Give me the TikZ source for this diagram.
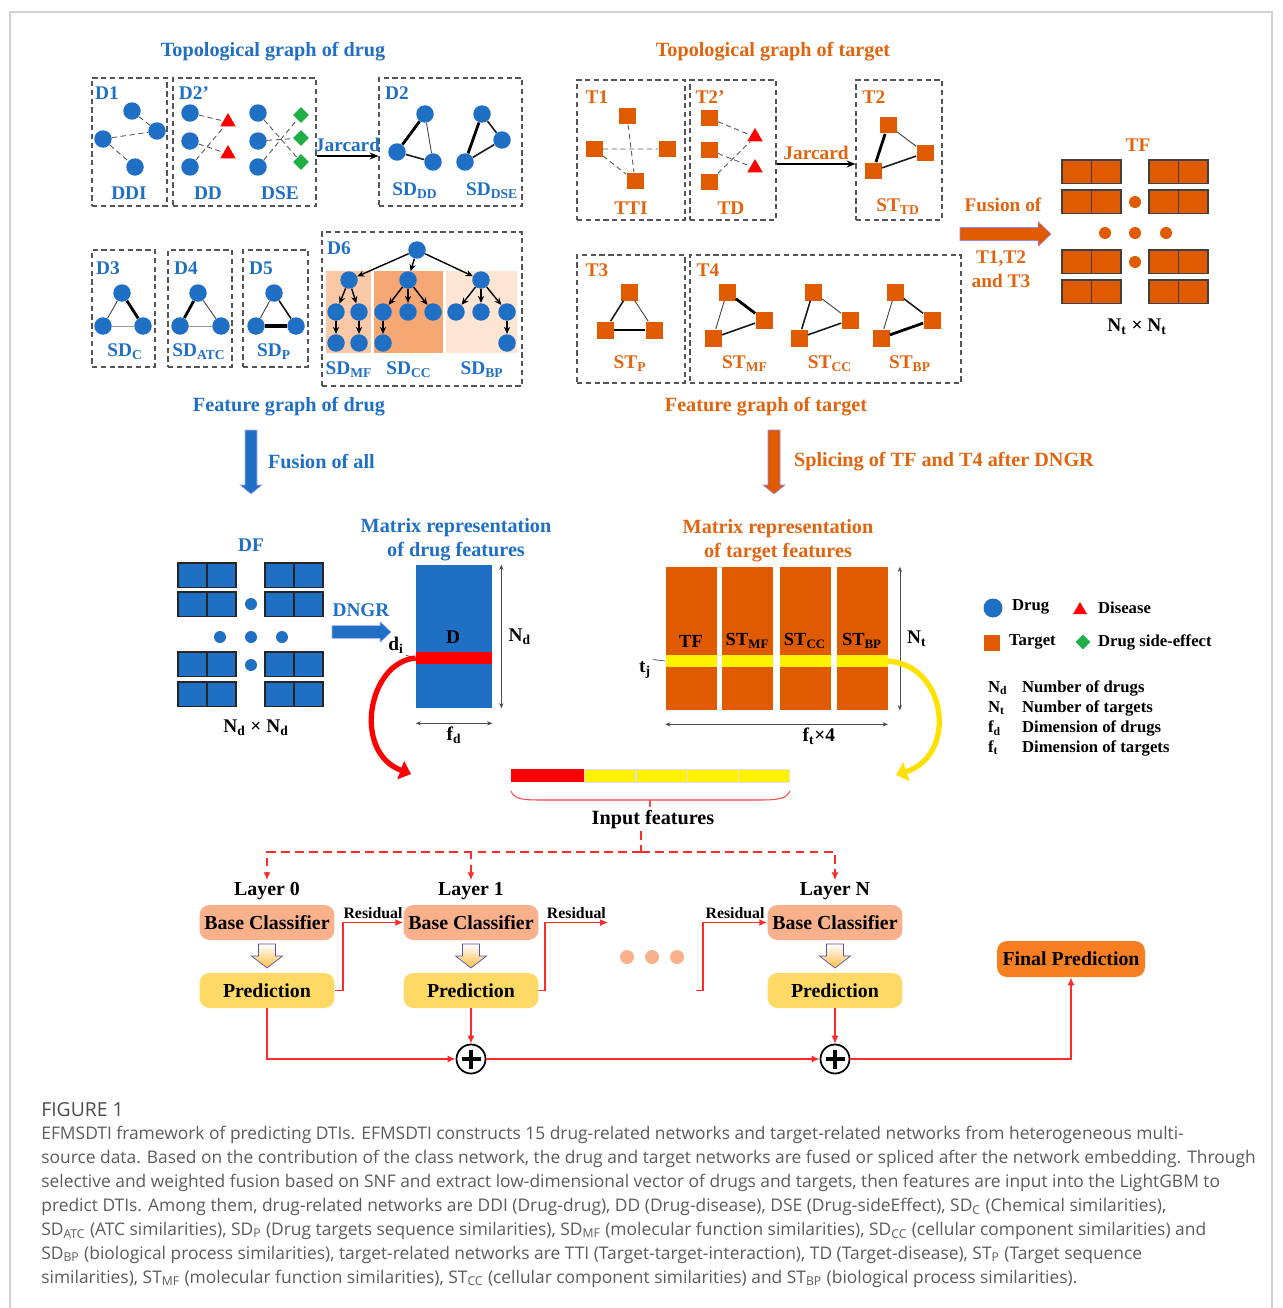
\documentclass[tikz,border=0pt]{standalone}
\usepackage{fontspec}
\setmainfont{Liberation Serif}
\newfontfamily\capfont{Open Sans}
\usetikzlibrary{arrows.meta,positioning,fit,calc,shapes.geometric}

\definecolor{drugblue}{HTML}{1F6FC5}
\definecolor{tgtorange}{HTML}{E05A00}
\definecolor{tgttext}{HTML}{E3640E}
\definecolor{mfshade}{HTML}{FAC9A8}
\definecolor{ccshade}{HTML}{F6A874}
\definecolor{bpshade}{HTML}{FDE5D3}
\definecolor{basefill}{HTML}{F9B18C}
\definecolor{predfill}{HTML}{FFD966}
\definecolor{finalfill}{HTML}{F77F22}
\definecolor{resred}{HTML}{FF2B2B}
\definecolor{boxgray}{HTML}{555555}
\definecolor{capgray}{HTML}{5C5C5C}
\definecolor{effgreen}{HTML}{1FAF45}
\definecolor{bandyellow}{HTML}{FFF200}

\begin{document}
\begin{tikzpicture}[
  x=0.02cm, y=-0.02cm,
  lbl/.style={font=\fontsize{11}{13}\selectfont\bfseries, inner sep=1pt},
  ttl/.style={font=\fontsize{11.5}{13.6}\selectfont\bfseries, align=center},
  legtext/.style={font=\fontsize{9.5}{11}\selectfont\bfseries, inner sep=1pt},
  resid/.style={font=\fontsize{9}{10}\selectfont\bfseries, inner sep=1.5pt, text=black},
  grp/.style={draw=boxgray, densely dashed, line width=0.6pt, inner sep=0pt},
  drug/.style={circle, fill=drugblue, minimum size=0.35cm, inner sep=0pt},
  target/.style={rectangle, fill=tgtorange, minimum size=0.34cm, inner sep=0pt},
  disease/.style={regular polygon, regular polygon sides=3, fill=red, minimum size=0.36cm, inner sep=0pt},
  effect/.style={diamond, fill=effgreen, minimum size=0.32cm, inner sep=0pt},
  dlink/.style={densely dashed, draw=black!65, line width=0.5pt},
  lightlink/.style={draw=black!75, line width=0.5pt},
  midlink/.style={draw=black!90, line width=0.9pt},
  heavylink/.style={draw=black, line width=1.6pt},
  treearrow/.style={-{Stealth[length=4pt,width=3.6pt]}, line width=0.8pt},
  jarc/.style={-{Stealth[length=5pt,width=4pt]}, line width=0.6pt},
  dimline/.style={{Stealth[length=3pt,width=2.4pt]}-{Stealth[length=3pt,width=2.4pt]}, line width=0.4pt, draw=black!70},
  dfcell/.style={fill=drugblue, draw=black!85, line width=0.8pt},
  tfcell/.style={fill=tgtorange, draw=black!75, line width=0.8pt},
  bluearrow/.style={fill=drugblue, draw=blue!30, line width=0.3pt},
  orangearrow/.style={fill=tgtorange, draw=blue!45, line width=0.3pt},
  clf/.style={rounded corners=0.2cm, fill=basefill, minimum width=2.7cm, minimum height=0.7cm, inner sep=0pt, font=\fontsize{11.3}{13}\selectfont\bfseries},
  predbox/.style={clf, fill=predfill},
  hollow/.style={top color=white, bottom color=predfill!70!orange, draw=blue!35!gray, line width=0.4pt},
  sumnode/.style={circle, draw=black, line width=1pt, minimum size=0.58cm, inner sep=0pt, fill=white},
  flow/.style={draw=resred, line width=0.8pt, -{Latex[length=4.5pt,width=4pt]}},
  dflow/.style={draw=resred, dash pattern=on 5pt off 3pt, line width=0.8pt}
]
\useasboundingbox (0,0) rectangle (1282,1308);
\fill[white] (0,0) rectangle (1282,1308);
\draw[black!18, line width=0.6pt] (10,1308) -- (10,12) -- (1272,12) -- (1272,1308);

% ---- drug: topological graphs
\node[ttl, text=drugblue] (ttldrug) at (273,52) {Topological graph of drug};
\node[grp, fit={(92,78) (167,206)}] (boxd1) {};
\node[grp, fit={(173,78) (316,206)}] (boxd2p) {};
\node[grp, fit={(379,78) (522,206)}] (boxd2) {};

\foreach \n/\x/\y in {a/132/111, b/157/131, c/103/139, d/135/167}
  \node[drug] (d1\n) at (\x,\y) {};
\draw[dlink] (d1a) -- (d1b) (d1c) -- (d1b) (d1c) -- (d1d);
\node[lbl, text=drugblue] (labd1) at (107,93) {D1};
\node[lbl, text=drugblue] (labddi) at (129,193) {DDI};

\foreach \n/\y in {a/113, b/141, c/167} {
  \node[drug] (dd\n) at (190,\y) {};
  \node[drug] (ds\n) at (258,\y) {};
}
\node[disease] (dis1) at (228,122) {};
\node[disease] (dis2) at (228,154) {};
\foreach \n/\y in {a/115, b/138, c/162}
  \node[effect] (eff\n) at (301,\y) {};
\draw[dlink] (dda) -- (dis1) (ddb) -- (dis2) (ddc) -- (dis1);
\draw[dlink] (dsa) -- (effc) (dsb) -- (effb) (dsc) -- (effa);
\node[lbl, text=drugblue] (labd2p) at (194,93) {D2'};
\node[lbl, text=drugblue] (labdd) at (208,193) {DD};
\node[lbl, text=drugblue] (labdse) at (280,193) {DSE};

\node[drug] (sda) at (425,114) {};
\node[drug] (sdb) at (397,152) {};
\node[drug] (sdc) at (433,162) {};
\node[drug] (sea) at (482,114) {};
\node[drug] (seb) at (502,140) {};
\node[drug] (sec) at (465,162) {};
\draw[heavylink] (sda) -- (sdb);
\draw[lightlink] (sda) -- (sdc);
\draw[midlink] (sdb) -- (sdc);
\draw[heavylink] (sea) -- (sec);
\draw[midlink] (sea) -- (seb);
\draw[midlink] (seb) -- (sec);
\node[lbl, text=drugblue] (labd2) at (397,93) {D2};
\node[lbl, text=drugblue] (labsddd) at (415,191) {SD\textsubscript{DD}};
\node[lbl, text=drugblue] (labsddse) at (492,191) {SD\textsubscript{DSE}};

\draw[jarc] ([yshift=-0.28cm]boxd2p.east) -- ([yshift=-0.28cm]boxd2.west)
  node[midway, above, lbl, text=drugblue, inner sep=2pt] (jard) {Jarcard};

% ---- drug: feature graphs
\node[grp, fit={(92,250) (155,367)}] (boxd3) {};
\node[grp, fit={(168,250) (232,367)}] (boxd4) {};
\node[grp, fit={(243,250) (308,367)}] (boxd5) {};
\node[grp, fit={(322,232) (522,386)}] (boxd6) {};

\node[drug] (d3t) at (122,293) {};
\node[drug] (d3l) at (103,326) {};
\node[drug] (d3r) at (143,326) {};
\draw[heavylink] (d3t) -- (d3r);
\draw[lightlink] (d3t) -- (d3l);
\draw[lightlink, draw=black!40] (d3l) -- (d3r);
\node[lbl, text=drugblue] (labd3) at (108,268) {D3};
\node[lbl, text=drugblue] (labsdc) at (125,352) {SD\textsubscript{C}};

\node[drug] (d4t) at (198,293) {};
\node[drug] (d4l) at (180,326) {};
\node[drug] (d4r) at (221,326) {};
\draw[heavylink] (d4t) -- (d4l);
\draw[lightlink] (d4t) -- (d4r);
\draw[lightlink, draw=black!40] (d4l) -- (d4r);
\node[lbl, text=drugblue] (labd4) at (186,268) {D4};
\node[lbl, text=drugblue] (labsdatc) at (199,352) {SD\textsubscript{ATC}};

\node[drug] (d5t) at (274,293) {};
\node[drug] (d5l) at (256,326) {};
\node[drug] (d5r) at (296,326) {};
\draw[lightlink] (d5t) -- (d5l);
\draw[midlink] (d5t) -- (d5r);
\draw[heavylink, line width=2.2pt] (d5l) -- (d5r);
\node[lbl, text=drugblue] (labd5) at (261,268) {D5};
\node[lbl, text=drugblue] (labsdp) at (274,352) {SD\textsubscript{P}};

\fill[mfshade] (326,271) rectangle (371,353);
\fill[ccshade] (374,271) rectangle (443,353);
\fill[bpshade] (446,271) rectangle (517,353);
\foreach \n/\x/\y in {root/417/250, mf/349/280, cc/408/280, bp/481/280,
    mfa/336/312, mfb/359/312, cca/383/312, ccb/408/312, ccc/433/312,
    bpa/456/312, bpb/481/312, bpc/507/312,
    mfaa/336/343, mfbb/359/343, ccaa/383/343, bpcc/507/343}
  \node[drug] (d6\n) at (\x,\y) {};
\foreach \a/\b in {root/mf, root/cc, root/bp, mf/mfa, mf/mfb, mfa/mfaa, mfb/mfbb,
    cc/cca, cc/ccb, cc/ccc, cca/ccaa, bp/bpa, bp/bpb, bp/bpc, bpc/bpcc}
  \draw[treearrow] (d6\a) -- (d6\b);
\node[lbl, text=drugblue] (labd6) at (339,248) {D6};
\node[lbl, text=drugblue] (labsdmf) at (349,370) {SD\textsubscript{MF}};
\node[lbl, text=drugblue] (labsdcc) at (409,370) {SD\textsubscript{CC}};
\node[lbl, text=drugblue] (labsdbp) at (482,370) {SD\textsubscript{BP}};
\node[ttl, text=drugblue] (ftdrug) at (289,407) {Feature graph of drug};

% ---- target: topological graphs
\node[ttl, text=tgttext] (ttltgt) at (773,52) {Topological graph of target};
\node[grp, fit={(577,80) (685,220)}] (boxt1) {};
\node[grp, fit={(690,80) (776,220)}] (boxt2p) {};
\node[grp, fit={(856,80) (942,220)}] (boxt2) {};

\foreach \n/\x/\y in {a/627/116, b/594/149, c/667/149, d/635/181}
  \node[target] (t1\n) at (\x,\y) {};
\draw[dlink] (t1a) -- (t1d) (t1b) -- (t1c) (t1b) -- (t1d);
\node[lbl, text=tgttext] (labt1) at (597,97) {T1};
\node[lbl, text=tgttext] (labtti) at (631,208) {TTI};

\foreach \n/\y in {a/118, b/150, c/182}
  \node[target] (td\n) at (709,\y) {};
\node[disease] (tdis1) at (755,137) {};
\node[disease] (tdis2) at (755,168) {};
\draw[dlink] (tda) -- (tdis1) (tdb) -- (tdis2) (tdc) -- (tdis1);
\node[lbl, text=tgttext] (labt2p) at (710,97) {T2'};
\node[lbl, text=tgttext] (labtd) at (731,208) {TD};

\node[target] (sta) at (888,125) {};
\node[target] (stb) at (925,153) {};
\node[target] (stc) at (873,171) {};
\draw[heavylink] (sta) -- (stc);
\draw[lightlink] (sta) -- (stb);
\draw[midlink] (stc) -- (stb);
\node[lbl, text=tgttext] (labt2) at (874,97) {T2};
\node[lbl, text=tgttext] (labsttd) at (898,207) {ST\textsubscript{TD}};

\draw[jarc] ([yshift=-0.28cm]boxt2p.east) -- ([yshift=-0.28cm]boxt2.west)
  node[midway, above, lbl, text=tgttext, inner sep=2pt] (jart) {Jarcard};

% ---- target: feature graphs
\node[grp, fit={(577,255) (685,383)}] (boxt3) {};
\node[grp, fit={(690,255) (961,383)}] (boxt4) {};

\node[target] (t3a) at (629,292) {};
\node[target] (t3b) at (605,330) {};
\node[target] (t3c) at (654,330) {};
\draw[midlink] (t3a) -- (t3b);
\draw[lightlink] (t3a) -- (t3c);
\draw[heavylink] (t3b) -- (t3c);
\node[lbl, text=tgttext] (labt3) at (597,270) {T3};
\node[lbl, text=tgttext] (labstp) at (630,364) {ST\textsubscript{P}};

\foreach \g/\x in {mf/727, cc/813, bp/895} {
  \node[target] (\g a) at (\x,292) {};
  \node[target] (\g b) at (\x+37,320) {};
  \node[target] (\g c) at (\x-14,338) {};
}
\draw[heavylink] (mfa) -- (mfb);
\draw[lightlink] (mfa) -- (mfc);
\draw[midlink] (mfc) -- (mfb);
\draw[lightlink] (cca) -- (ccb);
\draw[midlink] (cca) -- (ccc);
\draw[midlink] (ccc) -- (ccb);
\draw[midlink] (bpa) -- (bpb);
\draw[lightlink] (bpa) -- (bpc);
\draw[heavylink] (bpc) -- (bpb);
\node[lbl, text=tgttext] (labt4) at (708,270) {T4};
\node[lbl, text=tgttext] (labstmf) at (745,364) {ST\textsubscript{MF}};
\node[lbl, text=tgttext] (labstcc) at (830,364) {ST\textsubscript{CC}};
\node[lbl, text=tgttext] (labstbp) at (910,364) {ST\textsubscript{BP}};
\node[ttl, text=tgttext] (fttgt) at (766,407) {Feature graph of target};

% ---- TF
\node[lbl, text=tgttext] (labfus) at (1003,205) {Fusion of};
\filldraw[orangearrow] (960,227.5) -- (1038,227.5) -- (1038,221.5) -- (1051,234) -- (1038,246.5) -- (1038,240.5) -- (960,240.5) -- cycle;
\node[lbl, text=tgttext, align=center, font=\fontsize{11}{13.6}\selectfont\bfseries] (labfus2) at (1001,269) {T1,T2\\and T3};
\node[lbl, text=tgttext] (labtf) at (1138,145) {TF};
\foreach \x in {1062,1149}
  \foreach \y in {160,190,250,280} {
    \draw[tfcell] (\x,\y) rectangle ++(29.5,23.5);
    \draw[tfcell] (\x+29.5,\y) rectangle ++(29.5,23.5);
  }
\foreach \n/\x/\y in {a/1135/202, b/1105/233, c/1135/233, d/1166/233, e/1135/262}
  \node[circle, fill=tgtorange, minimum size=0.24cm, inner sep=0pt] (tfdot\n) at (\x,\y) {};
\node[lbl] (labntnt) at (1137,327) {N\textsubscript{t} × N\textsubscript{t}};

% ---- fusion arrows
\filldraw[bluearrow] (245,430) -- (257,430) -- (257,485) -- (262,485) -- (251,494) -- (240,485) -- (245,485) -- cycle;
\node[lbl, text=drugblue, anchor=west, font=\fontsize{11.5}{13}\selectfont\bfseries] (labfuseall) at (266,462) {Fusion of all};
\filldraw[orangearrow] (768,430) -- (780,430) -- (780,485) -- (785,485) -- (774,494) -- (763,485) -- (768,485) -- cycle;
\node[lbl, text=tgttext, anchor=west, font=\fontsize{11.5}{13}\selectfont\bfseries] (labsplice) at (792,462) {Splicing of TF and T4 after DNGR};

% ---- DF
\node[lbl, text=drugblue] (labdf) at (251,545) {DF};
\foreach \x in {178,265}
  \foreach \y in {563,592,652,682} {
    \draw[dfcell] (\x,\y) rectangle ++(29,24.5);
    \draw[dfcell] (\x+29,\y) rectangle ++(29,24.5);
  }
\foreach \n/\x/\y in {a/251/604, b/220/637, c/251/637, d/282/637, e/251/665}
  \node[circle, fill=drugblue, minimum size=0.24cm, inner sep=0pt] (dfdot\n) at (\x,\y) {};
\node[lbl] (labndnd) at (256,728) {N\textsubscript{d} × N\textsubscript{d}};
\filldraw[bluearrow] (332,625.5) -- (380,625.5) -- (380,621.5) -- (391,632) -- (380,642.5) -- (380,638.5) -- (332,638.5) -- cycle;
\node[lbl, text=drugblue] (labdngr) at (361,610) {DNGR};

% ---- drug matrix
\node[ttl, text=drugblue] (ttldmat) at (456,539.5) {Matrix representation\\of drug features};
\node[fill=drugblue, minimum width=1.52cm, minimum height=2.86cm, inner sep=0pt] (dmat) at (454,636.5) {};
\node[fill=red, minimum width=1.52cm, minimum height=0.24cm, inner sep=0pt] (dband) at (454,658) {};
\node[lbl] (labdm) at (453,637) {D};
\node[lbl] (labdi) at (396,645) {d\textsubscript{i}};
\draw[black!70, line width=0.4pt] (labdi.south east) -- (dband.west);
\draw[dimline] ([xshift=0.18cm]dmat.north east) -- ([xshift=0.18cm]dmat.south east)
  node[midway, right, lbl, inner sep=4pt] (labnd) {N\textsubscript{d}};
\draw[dimline] ([yshift=-0.3cm]dmat.south west) -- ([yshift=-0.3cm]dmat.south east)
  node[midway, below, lbl, inner sep=2pt] (labfd) {f\textsubscript{d}};

% ---- target matrix
\node[ttl, text=tgttext] (ttltmat) at (778,541) {Matrix representation\\of target features};
\foreach \i/\x/\t in {1/691/TF, 2/747.5/ST\textsubscript{MF}, 3/805/ST\textsubscript{CC}, 4/862/ST\textsubscript{BP}} {
  \node[fill=tgtorange, minimum width=1.02cm, minimum height=2.86cm, inner sep=0pt] (tcol\i) at (\x,638.5) {};
  \node[fill=bandyellow, minimum width=1.02cm, minimum height=0.24cm, inner sep=0pt] (tband\i) at (\x,661) {};
  \node[lbl, font=\fontsize{10.5}{12}\selectfont\bfseries] (labtcol\i) at (\x,641) {\t};
}
\node[lbl] (labtj) at (645,670) {t\textsubscript{j}};
\draw[black!70, line width=0.4pt] (labtj.north east) -- (tband1.west);
\draw[dimline] ([xshift=0.24cm]tcol4.north east) -- ([xshift=0.24cm]tcol4.south east)
  node[midway, right, lbl, inner sep=4pt] (labnt) {N\textsubscript{t}};
\draw[dimline] ([yshift=-0.28cm]tcol1.south west) -- ([yshift=-0.28cm]tcol4.south east)
  node[pos=0.69, below, lbl, inner sep=2pt] (labft) {f\textsubscript{t}×4};

% ---- legend
\node[drug, minimum size=0.38cm] (legdrug) at (993,608) {};
\node[legtext, anchor=west] (legdrugt) at (1010,607) {Drug};
\node[disease, minimum size=0.32cm] (legdis) at (1080,610) {};
\node[legtext, anchor=west] (legdist) at (1096,608) {Disease};
\node[target, minimum size=0.32cm] (legtgt) at (992,643) {};
\node[legtext, anchor=west] (legtgtt) at (1007,642) {Target};
\node[effect, minimum size=0.3cm] (legeff) at (1083,642) {};
\node[legtext, anchor=west] (legefft) at (1096,642) {Drug side-effect};
\foreach \n/\s/\t/\y in {a/N\textsubscript{d}/Number of drugs/688, b/N\textsubscript{t}/Number of targets/708,
    c/f\textsubscript{d}/Dimension of drugs/728, d/f\textsubscript{t}/Dimension of targets/748} {
  \node[legtext, anchor=west] (legsym\n) at (986,\y) {\s};
  \node[legtext, anchor=west] (legdesc\n) at (1020,\y) {\t};
}

% ---- input features
\node[fill=red, minimum width=1.46cm, minimum height=0.26cm, inner sep=0pt] (inred) at (547.5,775.5) {};
\foreach \i/\x in {1/610, 2/661.5, 3/712.5, 4/764}
  \node[fill=bandyellow, draw=black!12, line width=0.3pt, minimum width=1.03cm, minimum height=0.26cm, inner sep=0pt] (iny\i) at (\x,775.5) {};
\coordinate (redtip) at (411,774);
\coordinate (yeltip) at (896,775);
\draw[red, line width=3pt, -{Triangle[length=0.22cm,width=0.38cm]}] (dband.west) .. controls (368,662) and (352,752) .. (redtip);
\draw[bandyellow!85!orange, line width=3pt, -{Triangle[length=0.22cm,width=0.38cm]}] (tband4.east) .. controls (947,665) and (958,755) .. (yeltip);
\draw[resred!85, line width=0.6pt] (511,791) .. controls (514,800) and (525,800) .. (545,800) -- (755,800) .. controls (775,800) and (786,800) .. (790,791);
\draw[resred!85, line width=0.6pt] (650,800) -- (650,807);
\node[lbl, font=\fontsize{11.5}{13}\selectfont\bfseries] (infeat) at (653,820) {Input features};

% ---- boosting layers
\node[lbl, font=\fontsize{11.3}{13}\selectfont\bfseries] (lay0) at (267,891) {Layer 0};
\node[lbl, font=\fontsize{11.3}{13}\selectfont\bfseries] (lay1) at (471,891) {Layer 1};
\node[lbl, font=\fontsize{11.3}{13}\selectfont\bfseries] (layN) at (835,891) {Layer N};
\node[clf] (base0) at (267,922.5) {Base Classifier};
\node[clf] (base1) at (471,922.5) {Base Classifier};
\node[clf] (baseN) at (835,922.5) {Base Classifier};
\foreach \x in {267,471,835}
  \shadedraw[hollow] (\x-8.5,944) -- (\x+8.5,944) -- (\x+8.5,956) -- (\x+15.5,956) -- (\x,968) -- (\x-15.5,956) -- (\x-8.5,956) -- cycle;
\node[predbox] (pred0) at (267,990.5) {Prediction};
\node[predbox] (pred1) at (471,990.5) {Prediction};
\node[predbox] (predN) at (835,990.5) {Prediction};
\foreach \n/\x in {a/627, b/652, c/677}
  \node[circle, fill=basefill, minimum size=0.28cm, inner sep=0pt] (gap\n) at (\x,957) {};
\node[sumnode] (sum1) at (471,1059) {};
\node[sumnode] (sum2) at (835,1059) {};
\foreach \s in {sum1,sum2} {
  \draw[line width=2.6pt] ([xshift=-0.19cm]\s.center) -- ([xshift=0.19cm]\s.center);
  \draw[line width=2.6pt] ([yshift=-0.19cm]\s.center) -- ([yshift=0.19cm]\s.center);
}
\node[rounded corners=0.2cm, fill=finalfill, minimum width=2.96cm, minimum height=0.72cm, inner sep=0pt, font=\fontsize{11.3}{13}\selectfont\bfseries] (final) at (1071,959) {Final Prediction};

\coordinate (split) at (641,852);
\draw[dflow] (infeat.south -| split) -- (split);
\foreach \l in {lay0, lay1, layN}
  \draw[dflow, -{Latex[length=4.5pt,width=4pt]}] (split) -| (\l.north);

\draw[flow] (pred0.east) -- ++(8,0) |- (base1.west) node[pos=0.75, above, resid] (res1) {Residual};
\coordinate (res2end) at (608,922.5);
\draw[flow] (pred1.east) -- ++(6,0) |- (res2end) node[pos=0.75, above, resid] (res2) {Residual};
\coordinate (res3start) at (696,990.5);
\draw[flow] (res3start) -- ++(7,0) |- (baseN.west) node[pos=0.75, above, resid] (res3) {Residual};

\draw[flow] (pred0.south) |- (sum1.west);
\draw[flow] (pred1.south) -- (sum1.north);
\draw[flow] (sum1.east) -- (sum2.west);
\draw[flow] (predN.south) -- (sum2.north);
\draw[flow] (sum2.east) -| (final.south);

% ---- caption
\node[anchor=west, inner sep=0pt, font=\capfont\fontsize{11}{13}\selectfont, text=black!70] (figlabel) at (41,1110) {FIGURE 1};
\node[anchor=north west, align=left, inner sep=0pt, font=\capfont\fontsize{9.9}{13.6}\selectfont, text=capgray] (caption) at (41,1126) {%
EFMSDTI framework of predicting DTIs. EFMSDTI constructs 15 drug-related networks and target-related networks from heterogeneous multi-\\
source data. Based on the contribution of the class network, the drug and target networks are fused or spliced after the network embedding. Through\\
selective and weighted fusion based on SNF and extract low-dimensional vector of drugs and targets, then features are input into the LightGBM to\\
predict DTIs. Among them, drug-related networks are DDI (Drug-drug), DD (Drug-disease), DSE (Drug-sideEffect), SD\textsubscript{C} (Chemical similarities),\\
SD\textsubscript{ATC} (ATC similarities), SD\textsubscript{P} (Drug targets sequence similarities), SD\textsubscript{MF} (molecular function similarities), SD\textsubscript{CC} (cellular component similarities) and\\
SD\textsubscript{BP} (biological process similarities), target-related networks are TTI (Target-target-interaction), TD (Target-disease), ST\textsubscript{P} (Target sequence\\
similarities), ST\textsubscript{MF} (molecular function similarities), ST\textsubscript{CC} (cellular component similarities) and ST\textsubscript{BP} (biological process similarities).};
\end{tikzpicture}
\end{document}
